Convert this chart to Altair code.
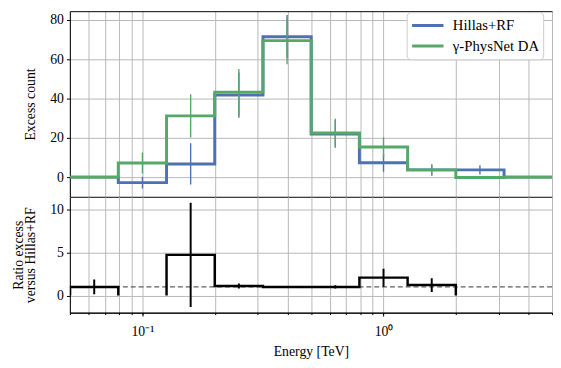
import altair as alt
import pandas as pd

# ---- data ----
bin_edges = [0.0501, 0.0794, 0.1259, 0.1995, 0.3162, 0.5012, 0.7943, 1.2589, 1.9953, 3.1623, 5.0119]
bin_centers = [0.0631, 0.1, 0.1585, 0.2512, 0.3981, 0.631, 1.0, 1.585, 2.512, 3.981]

hillas_counts = [0, -2.8, 6.7, 41.8, 71.5, 22.0, 7.3, 3.7, 3.7, 0]
hillas_errors = [None, 3.0, 10.5, 11.5, 11.0, 7.0, 4.6, 2.8, 2.3, None]
physnet_counts = [0, 7.2, 31.2, 43.3, 69.5, 22.5, 15.3, 3.7, -0.2, 0]
physnet_errors = [None, 5.4, 11.0, 11.8, 12.0, 7.2, 5.0, 2.8, None, None]

ratio_values = [1.0, None, 4.73, 1.1, 0.98, 1.0, 2.08, 1.22, None, None]
ratio_errors = [0.85, None, 6.07, 0.3, 0.1, 0.2, 1.05, 0.8, None, None]
ratio_reference = [1.0]

series_names = ["Hillas+RF", "γ-PhysNet DA"]
series_colors = ["#4C72B0", "#55A868"]

x_domain = [0.05, 5.0]
x_grid_values = [0.05, 0.06, 0.07, 0.08, 0.09, 0.1, 0.2, 0.3, 0.4, 0.5, 0.6, 0.7, 0.8, 0.9, 1, 2, 3, 4, 5]
x_major_values = [0.1, 1]
x_major_labels = ["10⁻¹", "10⁰"]
top_y_ticks = [0, 20, 40, 60, 80]
top_y_domain = [-10, 84.5]
bottom_y_ticks = [0, 5, 10]
bottom_y_domain = [-2, 11.5]


def step_path(values, edges, series):
    rows = []
    idx = 0
    seg = 0
    i = 0
    n = len(values)
    while i < n:
        if values[i] is None:
            i += 1
            continue
        j = i
        while j + 1 < n and values[j + 1] is not None:
            j += 1
        rows.append(dict(x=edges[i], y=0, idx=idx, seg=seg, series=series)); idx += 1
        for k in range(i, j + 1):
            rows.append(dict(x=edges[k], y=values[k], idx=idx, seg=seg, series=series)); idx += 1
            rows.append(dict(x=edges[k + 1], y=values[k], idx=idx, seg=seg, series=series)); idx += 1
        rows.append(dict(x=edges[j + 1], y=0, idx=idx, seg=seg, series=series)); idx += 1
        seg += 1
        i = j + 1
    return pd.DataFrame(rows)


def err_table(values, errors, series):
    rows = []
    for c, v, e in zip(bin_centers, values, errors):
        if v is None or e is None:
            continue
        rows.append(dict(x=c, lo=v - e, hi=v + e, series=series))
    return pd.DataFrame(rows)


FONT = "Liberation Serif"
GRID = "#b8b8b8"

xscale = alt.Scale(type="log", domain=x_domain, nice=False)
cscale = alt.Scale(domain=series_names, range=series_colors)

label_expr = " : ".join(
    [f"datum.value == {v} ? '{t}'" for v, t in zip(x_major_values, x_major_labels)]
) + " : ''"

top_grid_axis = alt.Axis(orient="bottom", values=x_grid_values, grid=True, gridColor=GRID,
                         ticks=False, labels=False, domain=True, domainColor="black",
                         title=None, minExtent=0, maxExtent=0, offset=0)
top_spine_axis = alt.Axis(orient="top", values=[], grid=False, ticks=False, labels=False,
                          domain=True, domainColor="black", title=None, minExtent=0, maxExtent=0)
top_y_axis = alt.Axis(values=top_y_ticks, grid=True, gridColor=GRID, tickSize=3.5,
                      title="Excess count", titlePadding=12, labelPadding=3)

legend = alt.Legend(title=None, orient="none", legendX=343, legendY=1)

layers = []
for k, (name, vals, errs) in enumerate(zip(series_names, [hillas_counts, physnet_counts],
                                          [hillas_errors, physnet_errors])):
    path = step_path(vals, bin_edges, name)
    line = alt.Chart(path).mark_line(strokeWidth=3, clip=True).encode(
        x=alt.X("x:Q", scale=xscale, axis=top_grid_axis if k == 0 else None),
        y=alt.Y("y:Q", scale=alt.Scale(domain=top_y_domain, nice=False), axis=top_y_axis),
        color=alt.Color("series:N", scale=cscale, legend=legend),
        order="idx:Q",
        detail="seg:N",
    )
    err = alt.Chart(err_table(vals, errs, name)).mark_rule(strokeWidth=1.4, clip=True).encode(
        x=alt.X("x:Q", scale=xscale, axis=top_spine_axis if k == 0 else None),
        y=alt.Y("lo:Q", scale=alt.Scale(domain=top_y_domain, nice=False), axis=top_y_axis),
        y2="hi:Q",
        color=alt.Color("series:N", scale=cscale, legend=legend),
    )
    layers += [line, err]

top = alt.layer(*layers).resolve_axis(x="independent").properties(width=491, height=189)

# ---- bottom panel ----
bottom_y_axis = alt.Axis(values=bottom_y_ticks, grid=True, gridColor=GRID, tickSize=3.5,
                         title=["Ratio excess", "versus Hillas+RF"], titlePadding=12,
                         titleLineHeight=13, labelPadding=3)
major_axis = alt.Axis(orient="bottom", values=x_major_values, labelExpr=label_expr, grid=False,
                      tickSize=3.5, domain=True, domainColor="black", title="Energy [TeV]",
                      labelPadding=9, titlePadding=6)
minor_axis = alt.Axis(orient="bottom", values=x_grid_values, grid=True, gridColor=GRID,
                      tickSize=2, labels=False, domain=True, domainColor="black", title=None)
byscale = alt.Scale(domain=bottom_y_domain, nice=False)

ref = alt.Chart(pd.DataFrame({"y": ratio_reference})).mark_rule(
    color="#333333", strokeWidth=1, strokeDash=[5, 3]
).encode(y=alt.Y("y:Q", scale=byscale, axis=bottom_y_axis))

ratio_line = alt.Chart(step_path(ratio_values, bin_edges, "ratio")).mark_line(
    color="black", strokeWidth=2.5, clip=True
).encode(
    x=alt.X("x:Q", scale=xscale, axis=major_axis),
    y=alt.Y("y:Q", scale=byscale, axis=bottom_y_axis),
    order="idx:Q",
    detail="seg:N",
)
ratio_err = alt.Chart(err_table(ratio_values, ratio_errors, "ratio")).mark_rule(
    color="black", strokeWidth=2, clip=True
).encode(
    x=alt.X("x:Q", scale=xscale, axis=minor_axis),
    y=alt.Y("lo:Q", scale=byscale, axis=bottom_y_axis),
    y2="hi:Q",
)

bottom = alt.layer(ref, ratio_line, ratio_err).resolve_axis(x="independent").properties(
    width=491, height=118)

chart = alt.vconcat(top, bottom, spacing=0).properties(
    padding={"left": 3, "top": 0, "right": 0, "bottom": 0}
).configure_view(stroke=None).configure_axis(
    labelFont=FONT, titleFont=FONT, labelFontSize=14, titleFontSize=14,
    titleFontWeight="normal", labelColor="black", titleColor="black",
    tickColor="black", domainColor="black", gridWidth=1
).configure_legend(
    fillColor="white", strokeColor="#cccccc", cornerRadius=4, padding=4,
    labelFont=FONT, labelFontSize=15, labelColor="black", symbolType="stroke",
    symbolStrokeWidth=3, symbolSize=1024, clipHeight=19, rowPadding=2, labelOffset=8
)

chart.save("out.html", embed_options={"renderer": "svg", "actions": False})
